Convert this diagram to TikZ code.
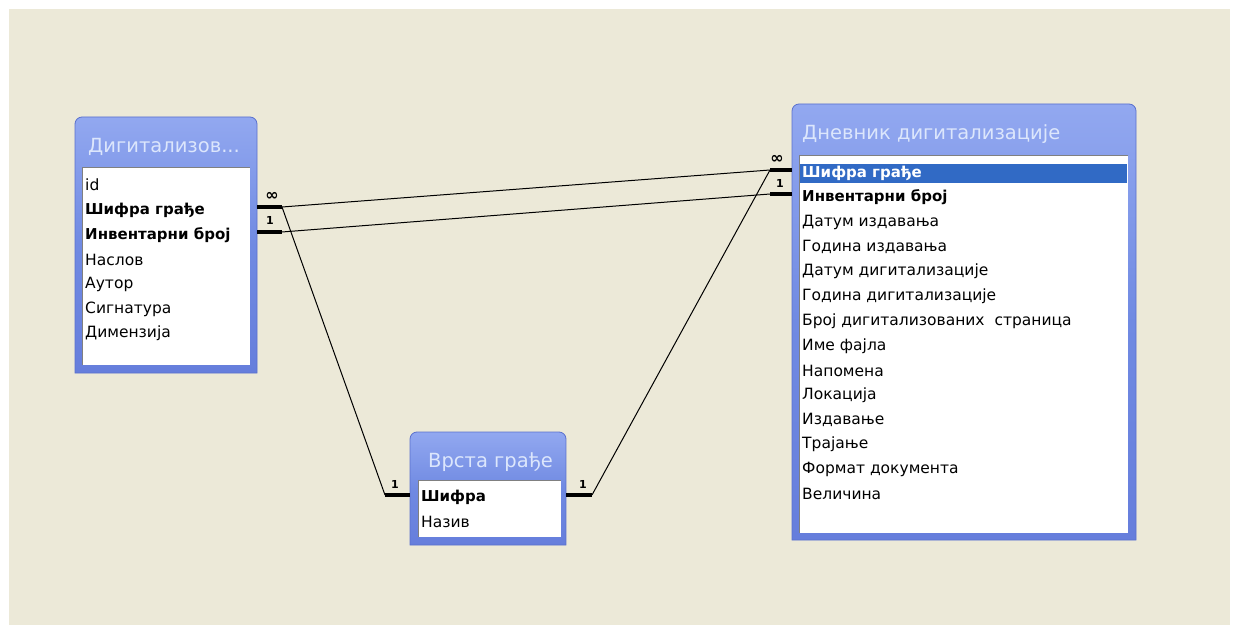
\documentclass[tikz,border=0pt]{standalone}
\usepackage{fontspec}
\setmainfont{DejaVu Sans}
\definecolor{bg}{RGB}{236,233,216}
\definecolor{tbtop}{RGB}{146,168,240}
\definecolor{tbmid}{RGB}{112,138,226}
\definecolor{tbbot}{RGB}{102,126,220}
\definecolor{tbedge}{RGB}{90,112,205}
\definecolor{titletext}{RGB}{220,230,252}
\definecolor{sel}{RGB}{49,106,197}
\definecolor{sunk}{RGB}{128,128,128}
\tikzset{
  frame/.style={top color=tbtop,bottom color=tbbot,middle color=tbmid,draw=tbedge,line width=0.8pt},
  listbox/.style={fill=white},
  ttl/.style={anchor=west,inner sep=0pt,text=titletext,font=\fontsize{19.5}{22}\selectfont},
  row/.style={anchor=west,inner sep=0pt,text=black,font=\fontsize{15.5}{18}\selectfont},
  keyrow/.style={row,font=\fontsize{15}{18}\selectfont\bfseries},
  stub/.style={line width=4pt,black},
  rel/.style={line width=1pt,black},
  card/.style={inner sep=0pt,font=\fontsize{11}{12}\selectfont\bfseries},
  inf/.style={inner sep=0pt,font=\fontsize{16}{16}\selectfont\bfseries}
}
\begin{document}
\begin{tikzpicture}[x=1pt,y=-1pt]
\useasboundingbox (0,0) rectangle (1233,628);
\fill[white] (0,0) rectangle (1233,628);
\fill[bg] (9,9) rectangle (1230,625);

% ---------- left table ----------
\path[frame] (75,373) [rounded corners=7pt] -- (75,117) -- (257,117) [sharp corners] -- (257,373) -- cycle;
\fill[listbox] (82,167) rectangle (250,365);
\draw[sunk,line width=1pt] (82.5,365) -- (82.5,167.5) -- (250,167.5);
\node[ttl] (tL) at (88,147) {Дигитализов...};
\node[row] (L1) at (85,185) {id};
\node[keyrow] (L2) at (85,210) {Шифра грађе};
\node[keyrow] (L3) at (85,235) {Инвентарни број};
\node[row] (L4) at (85,259.5) {Наслов};
\node[row] (L5) at (85,284) {Аутор};
\node[row] (L6) at (85,309) {Сигнатура};
\node[row] (L7) at (85,333.5) {Димензија};

% ---------- right table ----------
\path[frame] (792,540) [rounded corners=7pt] -- (792,104) -- (1136,104) [sharp corners] -- (1136,540) -- cycle;
\fill[listbox] (799,155) rectangle (1128,533);
\draw[sunk,line width=1pt] (799.5,533) -- (799.5,155.5) -- (1128,155.5);
\fill[sel] (800,164) rectangle (1127,183);
\node[ttl] (tR) at (802,134) {Дневник дигитализације};
\node[keyrow,text=white] (R1) at (802,173) {Шифра грађе};
\node[keyrow] (R2) at (802,197.5) {Инвентарни број};
\node[row] (R3) at (802,222) {Датум издавања};
\node[row] (R4) at (802,246.5) {Година издавања};
\node[row] (R5) at (802,271) {Датум дигитализације};
\node[row] (R6) at (802,296) {Година дигитализације};
\node[row] (R7) at (802,321) {Број дигитализованих\ \ страница};
\node[row] (R8) at (802,346) {Име фајла};
\node[row] (R9) at (802,370.5) {Напомена};
\node[row] (R10) at (802,395) {Локација};
\node[row] (R11) at (802,420) {Издавање};
\node[row] (R12) at (802,444.5) {Трајање};
\node[row] (R13) at (802,469) {Формат документа};
\node[row] (R14) at (802,494) {Величина};

% ---------- middle table ----------
\path[frame] (410,545) [rounded corners=7pt] -- (410,432) -- (566,432) [sharp corners] -- (566,545) -- cycle;
\fill[listbox] (418,480) rectangle (561,537);
\draw[sunk,line width=1pt] (418.5,537) -- (418.5,480.5) -- (561,480.5);
\node[ttl] (tM) at (428,462) {Врста грађе};
\node[keyrow] (M1) at (421,497.5) {Шифра};
\node[row] (M2) at (421,522) {Назив};

% ---------- relationship anchors ----------
\coordinate (Ls1) at (257,207);  \coordinate (Ls1e) at (282,207);
\coordinate (Ls2) at (257,232);  \coordinate (Ls2e) at (282,232);
\coordinate (Rs1) at (792,170);  \coordinate (Rs1e) at (770,170);
\coordinate (Rs2) at (792,194);  \coordinate (Rs2e) at (770,194);
\coordinate (Ml) at (410,495);   \coordinate (Mle) at (385,495);
\coordinate (Mr) at (566,495);   \coordinate (Mre) at (592,495);

% thin relationship lines
\draw[rel] (Ls1e) -- (Rs1e);
\draw[rel] (Ls2e) -- (Rs2e);
\draw[rel] (Ls1e) -- (Mle);
\draw[rel] (Mre) -- (Rs1e);

% thick stubs
\draw[stub] (Ls1) -- (Ls1e);
\draw[stub] (Ls2) -- (Ls2e);
\draw[stub] (Rs1e) -- (Rs1);
\draw[stub] (Rs2e) -- (Rs2);
\draw[stub] (Mle) -- (Ml);
\draw[stub] (Mr) -- (Mre);

% cardinality labels
\node[inf] (c1) at (272,196) {∞};
\node[card] (c2) at (270,220) {1};
\node[inf] (c3) at (777,159) {∞};
\node[card] (c4) at (780,183) {1};
\node[card] (c5) at (395,484) {1};
\node[card] (c6) at (583,484) {1};
\end{tikzpicture}
\end{document}
